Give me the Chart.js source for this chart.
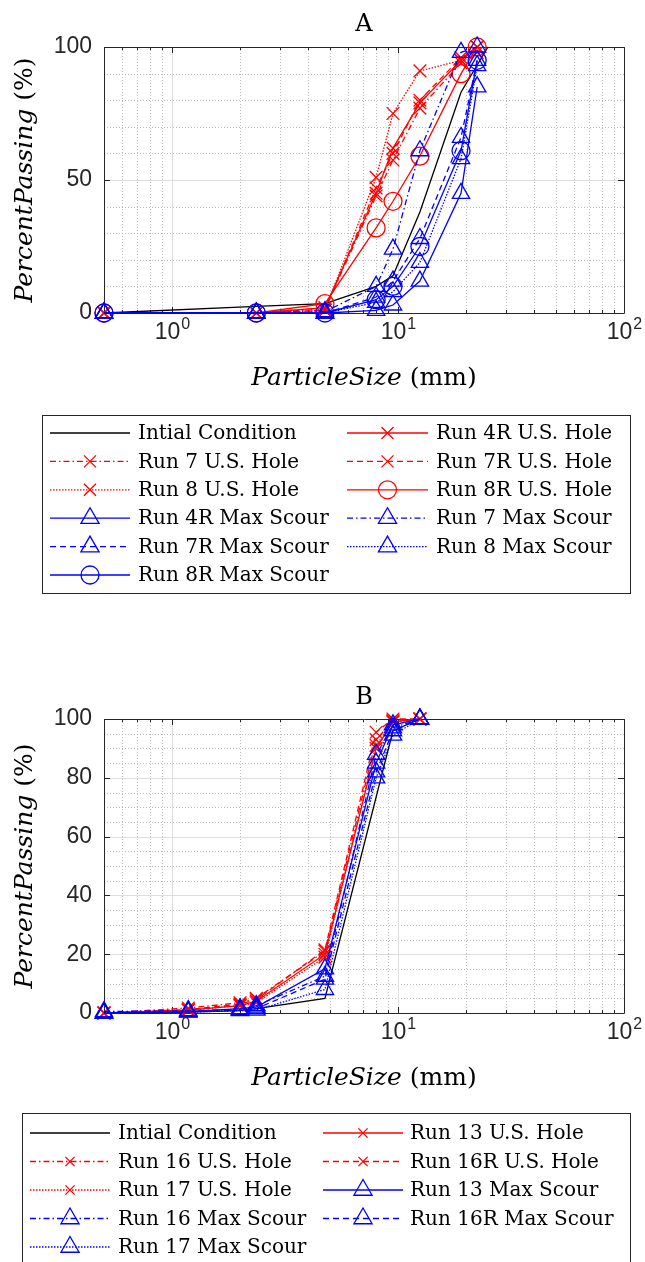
<!DOCTYPE html>
<html>
<head>
<meta charset="utf-8">
<title>Particle size distributions</title>
<script src="https://cdn.jsdelivr.net/npm/chart.js@4.4.0/dist/chart.umd.min.js"></script>
<style>
  body { margin: 0; background: #ffffff; }
  canvas { display: block; }
</style>
</head>
<body>
<canvas id="chart-a" width="645" height="640"></canvas>
<canvas id="chart-b" width="645" height="622"></canvas>
<script>
// sieve grid shared by both panels (log axis 0.5 .. 100 mm)
const x_major = [1, 10, 100];
const x_minor = [0.6, 0.7, 0.8, 0.9, 2, 3, 4, 5, 6, 7, 8, 9, 20, 30, 40, 50, 60, 70, 80, 90];

// ---------- panel A ----------
const sieve_a = [0.5, 2.36, 4.75, 8, 9.5, 12.5, 19, 22.4, 25];
const initial_a  = [0, 2.5, 3.5, 10, 14, 38, 83, null, 100];
const hole_4r_a  = [0, 0, 2, 45, 62, 79, 95, 100, null];
const hole_7_a   = [0, 0, 1.5, 44, 57.5, 77, 94, 98, null];
const hole_7r_a  = [0, 0, 1, 47, 60, 80, 96, 100, null];
const hole_8_a   = [0, 0, 1, 51, 75, 91, 95, 100, null];
const hole_8r_a  = [0, 0, 3.5, 32, 42, 59, 90, 100, null];
const scour_4r_a = [0, 0, 0, 1, 3, 12, 45, 85, null];
const scour_7_a  = [0, 0, 0.5, 10, 24, 61, 98, 100, null];
const scour_7r_a = [0, 0, 0, 6, 12, 28, 66, 95, null];
const scour_8_a  = [0, 0, 0, 4, 8, 19, 58, 93, null];
const scour_8r_a = [0, 0, 0, 5, 10, 25, 61, 95, null];
const y_ticks_a = [0, 50, 100];
const y_minor_a = [10, 20, 30, 40, 60, 70, 80, 90];

// ---------- panel B ----------
const sieve_b = [0.5, 1.18, 2, 2.36, 4.75, 8, 9.5, 12.5];
const initial_b   = [0, 0.3, 0.8, 1.5, 5, null, 96, 100];
const hole_13_b   = [0, 1, 2.5, 4, 20, 90, 99, 100];
const hole_16_b   = [0, 1.7, 3.5, 5, 21, 93, 99.5, 100];
const hole_16r_b  = [0, 1.2, 3, 4.5, 21.5, 95.5, 100, 100];
const hole_17_b   = [0, 1, 2.5, 3.5, 19, 91, 99, 100];
const scour_13_b  = [0, 0.5, 1.5, 2, 15, 85, 98, 100];
const scour_16_b  = [0.5, 0.8, 1.2, 2.5, 12.5, 88, 97, 100];
const scour_16r_b = [0, 0.5, 1, 1.5, 11.5, 82, 96, 100];
const scour_17_b  = [0, 0.3, 0.8, 1, 8, 80, 94.5, 100];
const y_ticks_b = [0, 20, 40, 60, 80, 100];
const y_minor_b = [5, 10, 15, 25, 30, 35, 45, 50, 55, 65, 70, 75, 85, 90, 95];

// line styles
const DASH = { solid: [], dashed: [6, 4], dashdot: [6, 3, 1.5, 3], dotted: [1.5, 1.5] };
const RADIUS = { crossRot: 9, triangle: 10, circle: 9 };
const RED = '#ff0000', BLUE = '#0000ff', BLACK = '#000000';

function series(label, sizes, values, color, dash, marker) {
    const pts = [];
    sizes.forEach((s, i) => { if (values[i] !== null) pts.push({ x: s, y: values[i] }); });
    return {
        label: label,
        data: pts,
        borderColor: color,
        borderWidth: 1.3,
        borderDash: DASH[dash],
        pointStyle: marker || false,
        pointRadius: marker ? RADIUS[marker] : 0,
        pointBorderColor: color,
        pointBackgroundColor: 'rgba(0,0,0,0)',
        pointBorderWidth: 1.3,
        tension: 0,
        fill: false,
        clip: false,
    };
}

// MATLAB-ish axes: dotted minor grid, solid major grid, boxed frame with inward ticks
function drawMarker(ctx, style, r, x, y) {
    ctx.beginPath();
    if (style === 'circle') {
        ctx.arc(x, y, r, 0, Math.PI * 2);
    } else if (style === 'triangle') {
        for (let k = 0; k < 3; k++) {
            const ang = k * 2 * Math.PI / 3;
            const vx = x + Math.sin(ang) * r, vy = y - Math.cos(ang) * r;
            if (k === 0) ctx.moveTo(vx, vy); else ctx.lineTo(vx, vy);
        }
        ctx.closePath();
    } else if (style === 'crossRot') {
        const d = r * Math.SQRT1_2;
        ctx.moveTo(x - d, y - d); ctx.lineTo(x + d, y + d);
        ctx.moveTo(x + d, y - d); ctx.lineTo(x - d, y + d);
    }
    ctx.stroke();
}

const matlab_frame = {
    id: 'matlab_frame',
    beforeDatasetsDraw(chart, args, o) {
        const ctx = chart.ctx, a = chart.chartArea;
        const xs = chart.scales.x, ys = chart.scales.y;
        const px = v => Math.round(xs.getPixelForValue(v)) + 0.5;
        const py = v => Math.round(ys.getPixelForValue(v)) + 0.5;
        ctx.save();
        ctx.lineWidth = 1;

        ctx.setLineDash([1, 2]);
        ctx.strokeStyle = '#bdbdbd';
        ctx.beginPath();
        o.xMinor.forEach(v => { ctx.moveTo(px(v), a.top); ctx.lineTo(px(v), a.bottom); });
        o.yMinor.forEach(v => { ctx.moveTo(a.left, py(v)); ctx.lineTo(a.right, py(v)); });
        ctx.stroke();

        ctx.setLineDash([]);
        ctx.strokeStyle = '#dedede';
        ctx.beginPath();
        o.xMajor.forEach(v => { ctx.moveTo(px(v), a.top); ctx.lineTo(px(v), a.bottom); });
        o.yMajor.forEach(v => { ctx.moveTo(a.left, py(v)); ctx.lineTo(a.right, py(v)); });
        ctx.stroke();

        ctx.strokeStyle = '#262626';
        ctx.beginPath();
        ctx.rect(a.left + 0.5, a.top + 0.5, a.right - a.left, a.bottom - a.top);
        o.xMajor.concat(o.xMinor).forEach(v => {
            const len = o.xMajor.includes(v) ? 6 : 3;
            ctx.moveTo(px(v), a.bottom); ctx.lineTo(px(v), a.bottom - len);
            ctx.moveTo(px(v), a.top); ctx.lineTo(px(v), a.top + len);
        });
        o.yMajor.forEach(v => {
            ctx.moveTo(a.left, py(v)); ctx.lineTo(a.left + 6, py(v));
            ctx.moveTo(a.right, py(v)); ctx.lineTo(a.right - 6, py(v));
        });
        ctx.stroke();
        ctx.restore();
    },
    afterDraw(chart, args, o) {
        const ctx = chart.ctx, a = chart.chartArea;
        const xs = chart.scales.x;
        const cx = (a.left + a.right) / 2, cy = (a.top + a.bottom) / 2;
        ctx.save();

        // 10^n tick labels
        ctx.fillStyle = '#262626';
        ctx.textAlign = 'left';
        ctx.textBaseline = 'alphabetic';
        o.xMajor.forEach(v => {
            const e = String(Math.round(Math.log10(v)));
            ctx.font = '23px "Liberation Sans"';
            const w1 = ctx.measureText('10').width;
            ctx.font = '16px "Liberation Sans"';
            const w2 = ctx.measureText(e).width;
            const left = xs.getPixelForValue(v) - (w1 + w2) / 2;
            ctx.font = '23px "Liberation Sans"';
            ctx.fillText('10', left, o.xTickY);
            ctx.font = '16px "Liberation Sans"';
            ctx.fillText(e, left + w1 + 1, o.xTickY - 10);
        });

        // panel title
        ctx.fillStyle = '#000000';
        ctx.textAlign = 'center';
        ctx.textBaseline = 'middle';
        ctx.font = '24px "DejaVu Serif"';
        ctx.fillText(o.title, cx, o.titleY);

        // axis titles: italic math name + upright unit
        const italic = 'italic 25px "DejaVu Serif"', upright = '25px "DejaVu Serif"';
        const mixed = (name, unit, x0, y0) => {
            ctx.font = italic; const w1 = ctx.measureText(name).width;
            ctx.font = upright; const w2 = ctx.measureText(unit).width;
            ctx.textAlign = 'left';
            ctx.font = italic; ctx.fillText(name, x0 - (w1 + w2) / 2, y0);
            ctx.font = upright; ctx.fillText(unit, x0 - (w1 + w2) / 2 + w1, y0);
        };
        mixed('ParticleSize', ' (mm)', cx, o.xTitleY);
        ctx.save();
        ctx.translate(o.yTitleX, cy);
        ctx.rotate(-Math.PI / 2);
        mixed('PercentPassing', ' (%)', 0, 0);
        ctx.restore();

        // legend box, two columns filled row by row
        const lg = o.legend;
        ctx.strokeStyle = '#262626';
        ctx.lineWidth = 1;
        ctx.setLineDash([]);
        ctx.strokeRect(lg.box[0] + 0.5, lg.box[1] + 0.5, lg.box[2] - lg.box[0], lg.box[3] - lg.box[1]);
        chart.data.datasets.forEach((ds, i) => {
            const col = lg.cols[i % 2], yy = lg.rows[Math.floor(i / 2)];
            ctx.save();
            ctx.strokeStyle = ds.borderColor;
            ctx.lineWidth = ds.borderWidth;
            ctx.setLineDash(ds.borderDash);
            ctx.beginPath();
            ctx.moveTo(col[0], yy); ctx.lineTo(col[1], yy);
            ctx.stroke();
            if (ds.pointStyle) {
                ctx.setLineDash([]);
                ctx.lineWidth = ds.pointBorderWidth;
                drawMarker(ctx, ds.pointStyle, lg.radius[ds.pointStyle], (col[0] + col[1]) / 2, yy);
            }
            ctx.restore();
            ctx.fillStyle = '#000000';
            ctx.font = lg.font;
            ctx.textAlign = 'left';
            ctx.textBaseline = 'middle';
            ctx.fillText(ds.label, col[2], yy + 1);
        });
        ctx.restore();
    }
};

function makeChart(id, datasets, yTicks, yMinor, layout, frame) {
    datasets.forEach((ds, i) => { ds.order = -i; });
    return new Chart(document.getElementById(id), {
        type: 'line',
        data: { datasets: datasets },
        plugins: [matlab_frame],
        options: {
            responsive: false,
            animation: false,
            events: [],
            layout: { padding: layout },
            plugins: {
                legend: { display: false },
                tooltip: { enabled: false },
                matlab_frame: Object.assign({ xMajor: x_major, xMinor: x_minor, yMajor: yTicks, yMinor: yMinor }, frame),
            },
            scales: {
                x: {
                    type: 'logarithmic',
                    min: 0.5,
                    max: 100,
                    afterBuildTicks: s => { s.ticks = x_major.map(v => ({ value: v })); },
                    afterFit: s => { s.height = 60; },
                    ticks: { display: false },
                    grid: { display: false, drawTicks: false },
                    border: { display: false },
                },
                y: {
                    type: 'linear',
                    min: 0,
                    max: 100,
                    afterBuildTicks: s => { s.ticks = yTicks.map(v => ({ value: v })); },
                    afterFit: s => { s.width = 104; },
                    ticks: {
                        padding: 12,
                        color: '#262626',
                        font: { family: 'Liberation Sans', size: 23 },
                        callback: v => String(v),
                    },
                    grid: { display: false, drawTicks: false },
                    border: { display: false },
                },
            },
        },
    });
}

const chartA = makeChart('chart-a', [
    series('Intial Condition', sieve_a, initial_a, BLACK, 'solid', null),
    series('Run 4R U.S. Hole', sieve_a, hole_4r_a, RED, 'solid', 'crossRot'),
    series('Run 7 U.S. Hole', sieve_a, hole_7_a, RED, 'dashdot', 'crossRot'),
    series('Run 7R U.S. Hole', sieve_a, hole_7r_a, RED, 'dashed', 'crossRot'),
    series('Run 8 U.S. Hole', sieve_a, hole_8_a, RED, 'dotted', 'crossRot'),
    series('Run 8R U.S. Hole', sieve_a, hole_8r_a, RED, 'solid', 'circle'),
    series('Run 4R Max Scour', sieve_a, scour_4r_a, BLUE, 'solid', 'triangle'),
    series('Run 7 Max Scour', sieve_a, scour_7_a, BLUE, 'dashdot', 'triangle'),
    series('Run 7R Max Scour', sieve_a, scour_7r_a, BLUE, 'dashed', 'triangle'),
    series('Run 8 Max Scour', sieve_a, scour_8_a, BLUE, 'dotted', 'triangle'),
    series('Run 8R Max Scour', sieve_a, scour_8r_a, BLUE, 'solid', 'circle'),
], y_ticks_a, y_minor_a, { left: 0, right: 21, top: 47, bottom: 267 }, {
    title: 'A', titleY: 25, xTickY: 339, xTitleY: 378, yTitleX: 25,
    legend: {
        box: [42, 415, 630, 593],
        rows: [433, 461.4, 489.8, 518.2, 546.6, 575],
        cols: [[50, 130, 138], [347, 428, 436]],
        radius: { crossRot: 8.5, triangle: 10.5, circle: 9 },
        font: '20px "DejaVu Serif"',
    },
});

const chartB = makeChart('chart-b', [
    series('Intial Condition', sieve_b, initial_b, BLACK, 'solid', null),
    series('Run 13 U.S. Hole', sieve_b, hole_13_b, RED, 'solid', 'crossRot'),
    series('Run 16 U.S. Hole', sieve_b, hole_16_b, RED, 'dashdot', 'crossRot'),
    series('Run 16R U.S. Hole', sieve_b, hole_16r_b, RED, 'dashed', 'crossRot'),
    series('Run 17 U.S. Hole', sieve_b, hole_17_b, RED, 'dotted', 'crossRot'),
    series('Run 13 Max Scour', sieve_b, scour_13_b, BLUE, 'solid', 'triangle'),
    series('Run 16 Max Scour', sieve_b, scour_16_b, BLUE, 'dashdot', 'triangle'),
    series('Run 16R Max Scour', sieve_b, scour_16r_b, BLUE, 'dashed', 'triangle'),
    series('Run 17 Max Scour', sieve_b, scour_17_b, BLUE, 'dotted', 'triangle'),
], y_ticks_b, y_minor_b, { left: 0, right: 21, top: 79, bottom: 189 }, {
    title: 'B', titleY: 58, xTickY: 399, xTitleY: 438, yTitleX: 25,
    legend: {
        box: [22, 473, 630, 720],
        rows: [493, 521.5, 550, 578.5, 607],
        cols: [[30, 110, 118], [323, 403, 410]],
        radius: { crossRot: 6.5, triangle: 10.5, circle: 9 },
        font: '20px "DejaVu Serif"',
    },
});
</script>
</body>
</html>
